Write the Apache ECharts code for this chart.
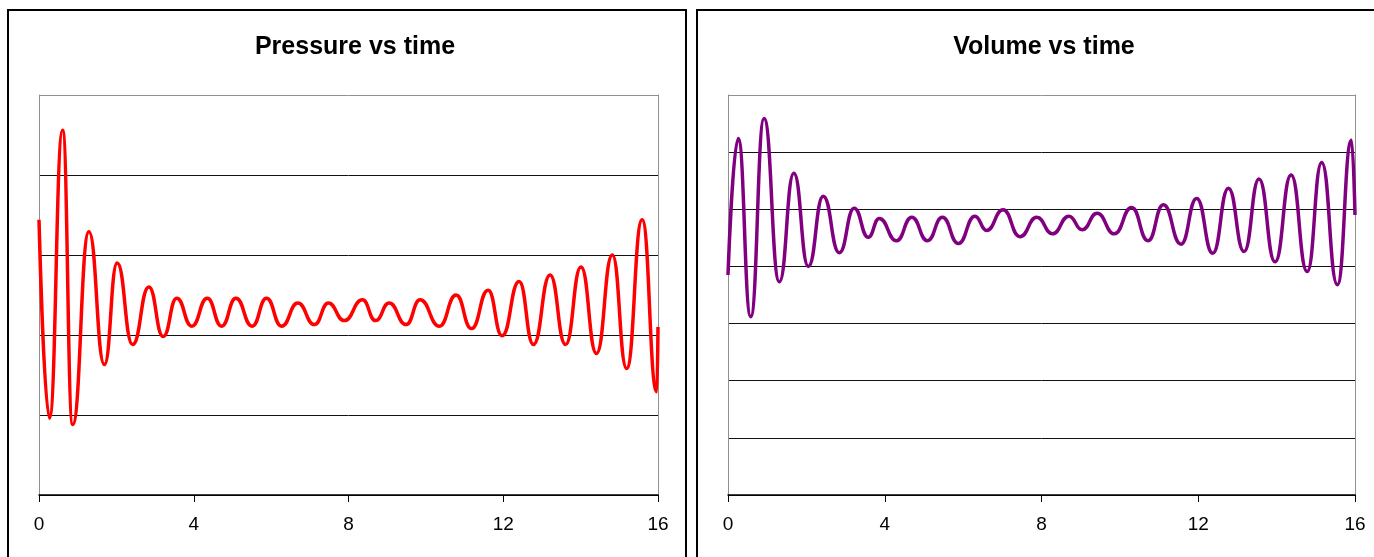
<!DOCTYPE html>
<html>
<head>
<meta charset="utf-8">
<script src="https://cdn.jsdelivr.net/npm/echarts@6/dist/echarts.min.js"></script>
<style>
  html, body { margin: 0; padding: 0; background: #fff; }
  #chart { width: 1374px; height: 557px; }
</style>
</head>
<body>
<div id="chart"></div>
<script>
// readings taken at the peaks and troughs of each trace
var pressureTime = [0, 0.27, 0.61, 0.87, 1.29, 1.69, 2.02, 2.42, 2.84, 3.21, 3.56, 3.95, 4.35, 4.72,
  5.09, 5.51, 5.88, 6.27, 6.69, 7.12, 7.48, 7.89, 8.36, 8.70, 9.05, 9.49, 9.85, 10.35, 10.78, 11.18,
  11.61, 11.97, 12.41, 12.78, 13.21, 13.61, 14.01, 14.41, 14.82, 15.19, 15.59, 15.97, 16.0];
var pressureValue = [3.44, 0.96, 4.56, 0.88, 3.29, 1.63, 2.90, 1.88, 2.60, 1.98, 2.46, 2.11, 2.46, 2.11,
  2.46, 2.11, 2.46, 2.11, 2.40, 2.13, 2.40, 2.18, 2.44, 2.18, 2.40, 2.13, 2.44, 2.11, 2.50, 2.08,
  2.56, 1.99, 2.67, 1.88, 2.75, 1.88, 2.85, 1.77, 3.00, 1.58, 3.44, 1.29, 2.10];

var volumeTime = [0, 0.26, 0.58, 0.92, 1.31, 1.68, 2.05, 2.43, 2.84, 3.22, 3.58, 3.86, 4.30, 4.69,
  5.09, 5.47, 5.88, 6.30, 6.60, 7.02, 7.45, 7.88, 8.28, 8.70, 9.04, 9.42, 9.86, 10.30, 10.72, 11.11,
  11.56, 11.96, 12.37, 12.77, 13.17, 13.55, 13.96, 14.37, 14.78, 15.15, 15.55, 15.91, 16.0];
var volumeValue = [3.85, 6.24, 3.12, 6.59, 3.73, 5.63, 4.00, 5.23, 4.24, 5.02, 4.51, 4.84, 4.45, 4.86,
  4.45, 4.86, 4.40, 4.88, 4.63, 4.99, 4.52, 4.86, 4.57, 4.88, 4.64, 4.93, 4.57, 5.03, 4.45, 5.08,
  4.39, 5.19, 4.23, 5.37, 4.26, 5.53, 4.08, 5.60, 3.91, 5.82, 3.68, 6.21, 4.90];

var timeTicks = [0, 4, 8, 12, 16];
var titles = ['Pressure vs time', 'Volume vs time'];

function pairs(xs, ys) {
  return xs.map(function (x, i) { return [x, ys[i]]; });
}

function xAxisOf(idx) {
  return {
    type: 'value', gridIndex: idx,
    min: timeTicks[0], max: timeTicks[timeTicks.length - 1], interval: 4,
    axisLine: { show: true, onZero: false, lineStyle: { color: '#000', width: 1.5 } },
    axisTick: { show: true, length: 7, lineStyle: { color: '#000' } },
    axisLabel: { color: '#000', fontSize: 19, fontFamily: 'Liberation Sans, Arial', margin: 20 },
    splitLine: { show: false },
    z: 5
  };
}

// left y axis: gridlines in black, the top one grey like the plot frame
function yAxisOf(idx, max) {
  var colors = [];
  for (var i = 0; i < max; i++) colors.push('#111');
  colors.push('#909090');
  return {
    type: 'value', gridIndex: idx, min: 0, max: max, interval: 1, position: 'left',
    axisLine: { show: true, onZero: false, lineStyle: { color: '#909090', width: 1 } },
    axisTick: { show: false }, axisLabel: { show: false },
    splitLine: { show: true, showMinLine: true, showMaxLine: true, lineStyle: { color: colors, width: 1 } }
  };
}

// right y axis only draws the grey right edge of the plot frame
function frameAxisOf(idx, max) {
  return {
    type: 'value', gridIndex: idx, min: 0, max: max, interval: 1, position: 'right',
    axisLine: { show: true, onZero: false, lineStyle: { color: '#909090', width: 1 } },
    axisTick: { show: false }, axisLabel: { show: false }, splitLine: { show: false }
  };
}

var chart = echarts.init(document.getElementById('chart'));
chart.setOption({
  animation: false,
  backgroundColor: '#fff',
  graphic: [
    { type: 'rect', shape: { x: 8, y: 10, width: 678, height: 570 }, style: { fill: 'none', stroke: '#000', lineWidth: 2 }, z: -1 },
    { type: 'rect', shape: { x: 697, y: 10, width: 700, height: 570 }, style: { fill: 'none', stroke: '#000', lineWidth: 2 }, z: -1 }
  ],
  title: [
    { text: titles[0], left: 350, top: 30, textAlign: 'center',
      textStyle: { fontSize: 25, fontWeight: 'bold', color: '#000', fontFamily: 'Liberation Sans, Arial' } },
    { text: titles[1], left: 1039, top: 30, textAlign: 'center',
      textStyle: { fontSize: 25, fontWeight: 'bold', color: '#000', fontFamily: 'Liberation Sans, Arial' } }
  ],
  grid: [
    { left: 39, top: 95, width: 619, height: 400, show: false },
    { left: 728, top: 95, width: 627, height: 400, show: false }
  ],
  xAxis: [xAxisOf(0), xAxisOf(1)],
  yAxis: [yAxisOf(0, 5), yAxisOf(1, 7), frameAxisOf(0, 5), frameAxisOf(1, 7)],
  series: [
    {
      name: 'Pressure', type: 'line', xAxisIndex: 0, yAxisIndex: 0,
      data: pairs(pressureTime, pressureValue),
      showSymbol: false, smooth: 0.5, smoothMonotone: 'x',
      lineStyle: { color: '#ff0000', width: 3.5 }
    },
    {
      name: 'Volume', type: 'line', xAxisIndex: 1, yAxisIndex: 1,
      data: pairs(volumeTime, volumeValue),
      showSymbol: false, smooth: 0.5, smoothMonotone: 'x',
      lineStyle: { color: '#800080', width: 3.5 }
    }
  ]
});
</script>
</body>
</html>
